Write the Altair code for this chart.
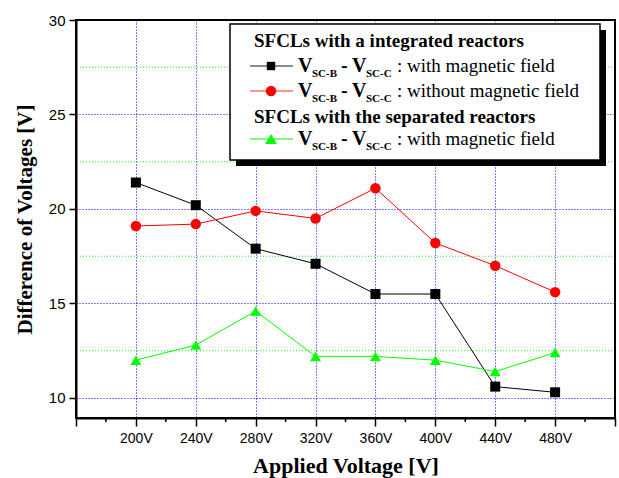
import altair as alt
import pandas as pd

# ---- data ----
voltages = [200, 240, 280, 320, 360, 400, 440, 480]
with_field = [21.4, 20.2, 17.9, 17.1, 15.5, 15.5, 10.6, 10.3]
without_field = [19.1, 19.2, 19.9, 19.5, 21.1, 18.2, 17.0, 15.6]
separated = [12.0, 12.8, 14.6, 12.2, 12.2, 12.0, 11.4, 12.4]

series_names = ["int_with", "int_without", "sep_with"]
series_colors = ["#000000", "#ff0000", "#00ff00"]
series_shapes = ["square", "circle", "triangle-up"]
series_sizes = [100, 120, 160]

x_major = [160, 200, 240, 280, 320, 360, 400, 440, 480, 520]
x_minor = [180, 220, 260, 300, 340, 380, 420, 460, 500]
y_major = [10, 15, 20, 25, 30]
y_green = [12.5, 17.5, 22.5, 27.5]

rows = []
for name, vals in zip(series_names, [with_field, without_field, separated]):
    for v, d in zip(voltages, vals):
        rows.append({"V": v, "D": d, "series": name})
df = pd.DataFrame(rows)

W, H = 539, 398
xscale = alt.Scale(domain=[160, 520], nice=False, zero=False)
yscale = alt.Scale(domain=[8.94, 30], nice=False, zero=False)
cscale = alt.Scale(domain=series_names, range=series_colors)
sscale = alt.Scale(domain=series_names, range=series_shapes)
zscale = alt.Scale(domain=series_names, range=series_sizes)

SERIF = "Liberation Serif"
SANS = "Liberation Sans"

xaxis = alt.Axis(
    values=x_major,
    labelExpr="datum.value >= 200 && datum.value <= 480 ? datum.value + 'V' : ''",
    title="Applied Voltage [V]",
    titleFont=SERIF, titleFontSize=22, titleFontWeight="bold", titleColor="black",
    titleX=W / 2, titleY=47, titleBaseline="middle", titleAlign="center",
    labelFont=SANS, labelFontSize=14, labelColor="black", labelPadding=5,
    tickSize=8, tickWidth=1.5, tickColor="black",
    domainColor="black", domainWidth=2,
    grid=True, gridColor="#0000ff", gridDash=[1, 2], gridWidth=1,
)
yaxis = alt.Axis(
    values=y_major,
    title="Difference of Voltages [V]",
    titleFont=SERIF, titleFontSize=21, titleFontWeight="bold", titleColor="black",
    titleX=-51, titleY=H / 2, titleBaseline="middle", titleAlign="center", titleAngle=-90,
    labelFont=SANS, labelFontSize=15, labelColor="black", labelPadding=4,
    tickSize=7, tickWidth=1.5, tickColor="black",
    domainColor="black", domainWidth=2,
    grid=True, gridColor="#0000ff", gridDash=[1, 2], gridWidth=1,
)

green_grid = alt.Chart(pd.DataFrame({"g": y_green})).mark_rule(
    color="#33ee33", strokeDash=[1, 2], strokeWidth=1
).encode(y=alt.Y("g:Q", scale=yscale, axis=yaxis))

frame = alt.Chart(pd.DataFrame({"a": [0]})).mark_rect(
    fill=None, stroke="black", strokeWidth=2
).encode(x=alt.value(0), x2=alt.value(W), y=alt.value(0), y2=alt.value(H))

lines = alt.Chart(df).mark_line(strokeWidth=1).encode(
    x=alt.X("V:Q", scale=xscale, axis=xaxis),
    y=alt.Y("D:Q", scale=yscale, axis=yaxis),
    color=alt.Color("series:N", scale=cscale, legend=None),
)

points = alt.Chart(df).mark_point(filled=True, opacity=1).encode(
    x=alt.X("V:Q", scale=xscale),
    y=alt.Y("D:Q", scale=yscale),
    color=alt.Color("series:N", scale=cscale, legend=None),
    shape=alt.Shape("series:N", scale=sscale, legend=None),
    size=alt.Size("series:N", scale=zscale, legend=None),
)

minor_ticks = alt.Chart(pd.DataFrame({"m": x_minor})).mark_rule(
    color="black", strokeWidth=1.5
).encode(x=alt.X("m:Q", scale=xscale), y=alt.value(H), y2=alt.value(H + 4))

# ---- legend box (pixel placed, relative to plot area) ----
one = pd.DataFrame({"a": [0]})
OX, OY = 76, 20  # plot origin in the page


def px(x):
    return alt.value(x - OX)


def py(y):
    return alt.value(y - OY)


legend_layers = [
    alt.Chart(one).mark_rect(color="black").encode(
        x=px(236), x2=px(606), y=py(30), y2=py(166)),
    alt.Chart(one).mark_rect(color="white", stroke="black", strokeWidth=1.5).encode(
        x=px(230), x2=px(600), y=py(24), y2=py(160)),
]


def txt(x, y, s, size=19, weight="bold"):
    return alt.Chart(one).mark_text(
        text=s, font=SERIF, fontSize=size, fontWeight=weight, color="black",
        align="left", baseline="middle").encode(x=px(x), y=py(y))


legend_layers += [
    txt(254, 41, "SFCLs with a integrated reactors"),
    txt(254, 117, "SFCLs with the separated reactors"),
]

leg_rows = [(66, "#666666", "#000000", "square", 70, ": with magnetic field"),
            (91, "#ff7070", "#ff0000", "circle", 110, ": without magnetic field"),
            (139, "#55ff55", "#00ff00", "triangle-up", 140, ": with magnetic field")]
for ry, lc, mc, shp, sz, desc in leg_rows:
    legend_layers.append(alt.Chart(one).mark_rule(color=lc, strokeWidth=1.5).encode(
        x=px(250), x2=px(293), y=py(ry)))
    legend_layers.append(alt.Chart(one).mark_point(
        shape=shp, filled=True, opacity=1, color=mc, size=sz).encode(x=px(271), y=py(ry)))
    legend_layers += [
        txt(298, ry, "V", 20),
        txt(312, ry + 8, "SC-B", 11),
        txt(341, ry, "-", 20),
        txt(352, ry, "V", 20),
        txt(366, ry + 8, "SC-C", 11),
        txt(397, ry, desc, 19, "normal"),
    ]

chart = alt.layer(
    green_grid, lines, points, minor_ticks, frame, *legend_layers
).properties(
    width=W, height=H,
    autosize=alt.AutoSizeParams(type="none"),
    padding={"left": OX, "top": OY, "right": 4, "bottom": 60},
    background="white",
).configure_view(stroke="black", strokeWidth=2)

chart.save("out.html", embed_options={"renderer": "svg", "actions": False})
